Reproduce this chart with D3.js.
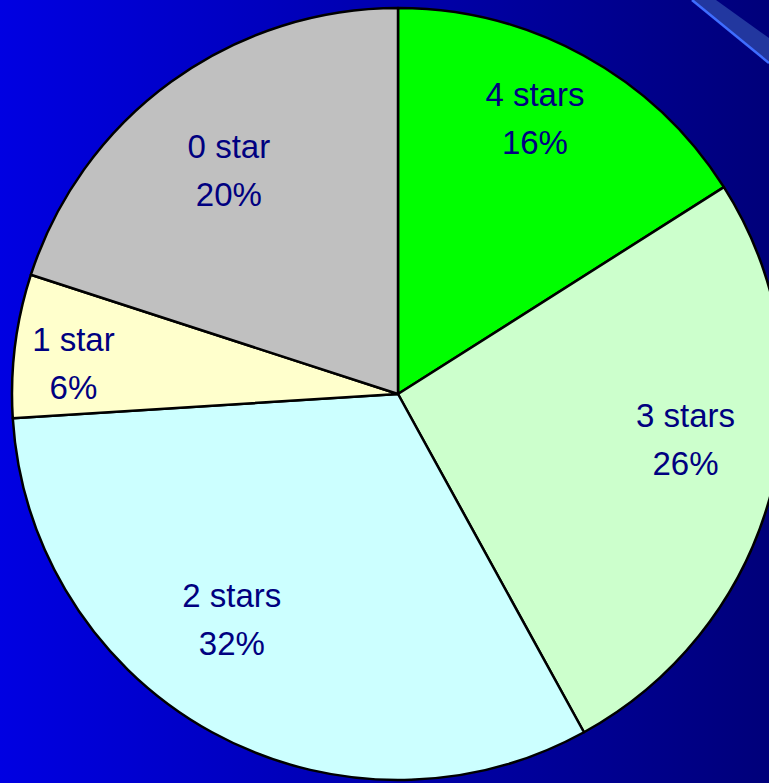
<!DOCTYPE html>
<html><head><meta charset="utf-8">
<script src="https://cdn.jsdelivr.net/npm/d3@7"></script>
<style>html,body{margin:0;padding:0;overflow:hidden;background:#000080}</style>
</head><body>
<script>
const categories = ["4 stars", "3 stars", "2 stars", "1 star", "0 star"];
const values = [16, 26, 32, 6, 20];
const colors = ["#00FF00", "#CCFFCC", "#CCFFFF", "#FFFFCC", "#C0C0C0"];
// label placement tuning (radius in px, angle shift in degrees from slice mid-angle)
const labelRadius = [308, 291, 280, 326, 281];
const labelAngleShift = [-2.4, -5.5, 7.6, -1.8, -1];

const W = 769, H = 783;
const svg = d3.select("body").append("svg").attr("width", W).attr("height", H);
const defs = svg.append("defs");
const g1 = defs.append("linearGradient").attr("id", "bg").attr("x1", "0").attr("x2", "1").attr("y1", "0").attr("y2", "0");
g1.append("stop").attr("offset", "0").attr("stop-color", "#0000E2");
g1.append("stop").attr("offset", "1").attr("stop-color", "#00007A");
svg.append("rect").attr("width", W).attr("height", H).attr("fill", "url(#bg)");

// decorative band top-right
svg.append("path").attr("d", "M692,0 L716,0 L769,38 L769,63 Z").attr("fill", "#2A45A8").attr("opacity", 0.8);
svg.append("line").attr("x1", 692).attr("y1", 0).attr("x2", 769).attr("y2", 63)
  .attr("stroke", "#3F6DFF").attr("stroke-width", 2.5);

const cx = 398, cy = 394, R = 386;
const data = categories.map((c, i) => ({ cat: c, value: values[i], color: colors[i], i }));
const pie = d3.pie().value(d => d.value).sort(null);
const arc = d3.arc().innerRadius(0).outerRadius(R);
const g = svg.append("g").attr("transform", `translate(${cx},${cy})`);
const arcs = pie(data);
g.selectAll("path.slice").data(arcs).join("path").attr("class", "slice")
  .attr("d", arc).attr("fill", d => d.data.color)
  .attr("stroke", "#000").attr("stroke-width", 2.5).attr("stroke-linejoin", "round");

function labelPos(d) {
  const i = d.data.i;
  const a = (d.startAngle + d.endAngle) / 2 + labelAngleShift[i] * Math.PI / 180;
  const r = labelRadius[i];
  return [r * Math.sin(a), -r * Math.cos(a)];
}
const lbl = g.selectAll("text.lbl").data(arcs).join("text").attr("class", "lbl")
  .attr("transform", d => `translate(${labelPos(d)})`)
  .attr("text-anchor", "middle")
  .attr("font-family", "Liberation Sans, Arial, sans-serif")
  .attr("font-size", 33).attr("fill", "#000080");
lbl.append("tspan").attr("x", 0).attr("y", -12).text(d => d.data.cat);
lbl.append("tspan").attr("x", 0).attr("y", 36).text(d => d.data.value + "%");
</script>
</body></html>
